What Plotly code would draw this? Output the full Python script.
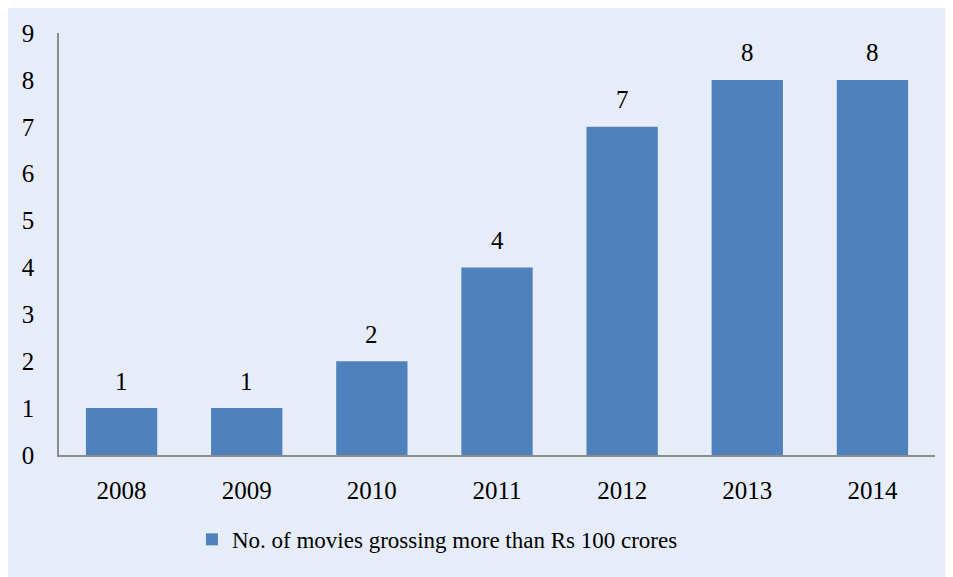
import plotly.graph_objects as go

years = ["2008", "2009", "2010", "2011", "2012", "2013", "2014"]
movies = [1, 1, 2, 4, 7, 8, 8]
series_name = "No. of movies grossing more than Rs 100 crores"
y_ticks = [0, 1, 2, 3, 4, 5, 6, 7, 8, 9]

FONT = "Liberation Serif, Times New Roman, serif"
BAR = "#4F81BD"
BG = "#E6EDF8"

fig = go.Figure(
    go.Bar(
        x=years,
        y=movies,
        name=series_name,
        marker=dict(color=BAR, line=dict(width=0)),
        showlegend=True,
    )
)

# value labels above bars (category index positions on the category axis)
for i, v in enumerate(movies):
    fig.add_annotation(
        x=i, y=v, text=str(v), showarrow=False,
        xref="x", yref="y",
        yshift=27, yanchor="middle",
        font=dict(family=FONT, size=25, color="#000000"),
    )

fig.update_layout(
    width=942,
    height=569,
    margin=dict(l=51, r=15, t=25, b=122),
    paper_bgcolor=BG,
    plot_bgcolor=BG,
    bargap=0.43,
    font=dict(family=FONT, size=25, color="#000000"),
    showlegend=True,
    legend=dict(
        orientation="h",
        x=0.432,
        xanchor="center",
        y=-0.2,
        yanchor="middle",
        font=dict(family=FONT, size=23, color="#000000"),
        bgcolor="rgba(0,0,0,0)",
    ),
    xaxis=dict(
        type="category",
        categoryorder="array",
        categoryarray=years,
        range=[-0.5, len(years) - 0.5],
        showline=True,
        linecolor="#8C8C8C",
        linewidth=1.5,
        showgrid=False,
        ticks="",
        ticklabelstandoff=12,
        tickfont=dict(family=FONT, size=25),
    ),
    yaxis=dict(
        range=[0, 9],
        tickvals=y_ticks,
        showline=True,
        linecolor="#8C8C8C",
        linewidth=1.5,
        showgrid=False,
        zeroline=False,
        ticks="",
        ticklabelstandoff=18,
        tickfont=dict(family=FONT, size=25),
    ),
)

fig.write_html("out.html")
